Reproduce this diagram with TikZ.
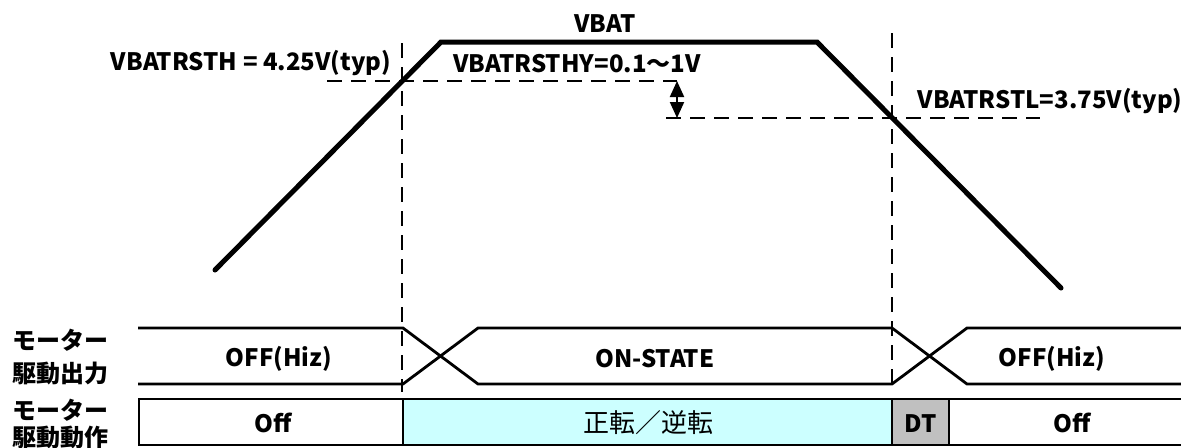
\documentclass[tikz,border=0pt]{standalone}
\usepackage{fontspec}
\setmainfont{Noto Sans CJK JP}
\usetikzlibrary{arrows.meta, positioning}
\definecolor{mycyan}{HTML}{CCFFFF}
\definecolor{mygray}{HTML}{C0C0C0}
\tikzset{
	vbatline/.style={
			line width=2.5pt,
			line cap=round
		},
	waveline/.style={
			line width=1.4pt
		},
	guideline/.style={
			line width=1pt,
			dash pattern=on 7.5pt off 4.5pt
		},
	cellbox/.style={
			shape=rectangle,
			draw=black,
			line width=1pt,
			minimum height=23pt,
			inner sep=0pt
		},
	labeltext/.style={
			font=\fontsize{12}{14}\selectfont\bfseries,
			inner sep=0pt
		},
	sidetext/.style={
			labeltext,
			anchor=west
		}
}

\begin{document}
\begin{tikzpicture}[x=0.5pt, y=-0.5pt]
  \useasboundingbox (0,0) rectangle (1181,447);

  \coordinate (v0) at (215,270);
  \coordinate (v1) at (441,42);
  \coordinate (v2) at (817,42);
  \coordinate (v3) at (1061,288);
  \draw[vbatline] (v0) -- (v1) -- (v2) -- (v3);

  \coordinate (g1t) at (402,43);
  \coordinate (g1b) at (402,392);
  \coordinate (g2t) at (892,33);
  \coordinate (g2b) at (892,392);
  \coordinate (h1l) at (327,81);
  \coordinate (h1r) at (677,81);
  \coordinate (h2l) at (666,118);
  \coordinate (h2r) at (1040,118);
  \coordinate (a2) at (677,118);

  \draw[guideline] (g1t) -- (g1b);
  \draw[guideline] (g2t) -- (g2b);
  \draw[guideline] (h1l) -- (h1r);
  \draw[guideline] (h2l) -- (h2r);
  \draw[line width=1pt, {Triangle[length=8pt,width=7pt]}-{Triangle[length=8pt,width=7pt]}] (h1r) -- (a2);

  \node[labeltext, anchor=base] (vbat) at (605,32) {VBAT};
  \node[labeltext, anchor=base] (thr) at (251,70) {VBATRSTH = 4.25V(typ)};
  \node[labeltext, anchor=base] (hys) at (577,72) {VBATRSTHY=0.1～1V};
  \node[labeltext, anchor=base] (thf) at (1050,108) {VBATRSTL=3.75V(typ)};

  \coordinate (w0t) at (138,328);
  \coordinate (w0b) at (138,384);
  \coordinate (w1t) at (403,328);
  \coordinate (w1b) at (403,384);
  \coordinate (w2t) at (478,328);
  \coordinate (w2b) at (478,384);
  \coordinate (w3t) at (892,328);
  \coordinate (w3b) at (892,384);
  \coordinate (w4t) at (967,328);
  \coordinate (w4b) at (967,384);
  \coordinate (w5t) at (1185,328);
  \coordinate (w5b) at (1185,384);
  \draw[waveline] (w0t) -- (w1t) -- (w2b) -- (w3b) -- (w4t) -- (w5t);
  \draw[waveline] (w0b) -- (w1b) -- (w2t) -- (w3t) -- (w4b) -- (w5b);

  \node[labeltext, anchor=base] (ofl) at (279,366) {OFF(Hiz)};
  \node[labeltext, anchor=base] (ons) at (655,367) {ON-STATE};
  \node[labeltext, anchor=base] (ofr) at (1052,366) {OFF(Hiz)};

  \node[cellbox, minimum width=132pt] (b1) at (271,422) {};
  \node[cellbox, fill=mycyan, minimum width=244.5pt] (b2) at (647.5,422) {};
  \node[cellbox, fill=mygray, minimum width=28.5pt] (b3) at (920.5,422) {};
  \node[cellbox, minimum width=118pt] (b4) at (1067,422) {};

  \node[labeltext, anchor=base] at (273,432) {Off};
  \node[labeltext, anchor=base, font=\fontsize{13}{15}\selectfont] at (648,432) {正転／逆転};
  \node[labeltext, anchor=base] at (920.5,432) {DT};
  \node[labeltext, anchor=base] at (1072,432) {Off};

  \node[sidetext] (m1) at (12,340) {モーター};
  \node[sidetext] (m2) at (12,373) {駆動出力};
  \node[sidetext] (m3) at (12,410) {モーター};
  \node[sidetext] (m4) at (12,438) {駆動動作};

\end{tikzpicture}
\end{document}
